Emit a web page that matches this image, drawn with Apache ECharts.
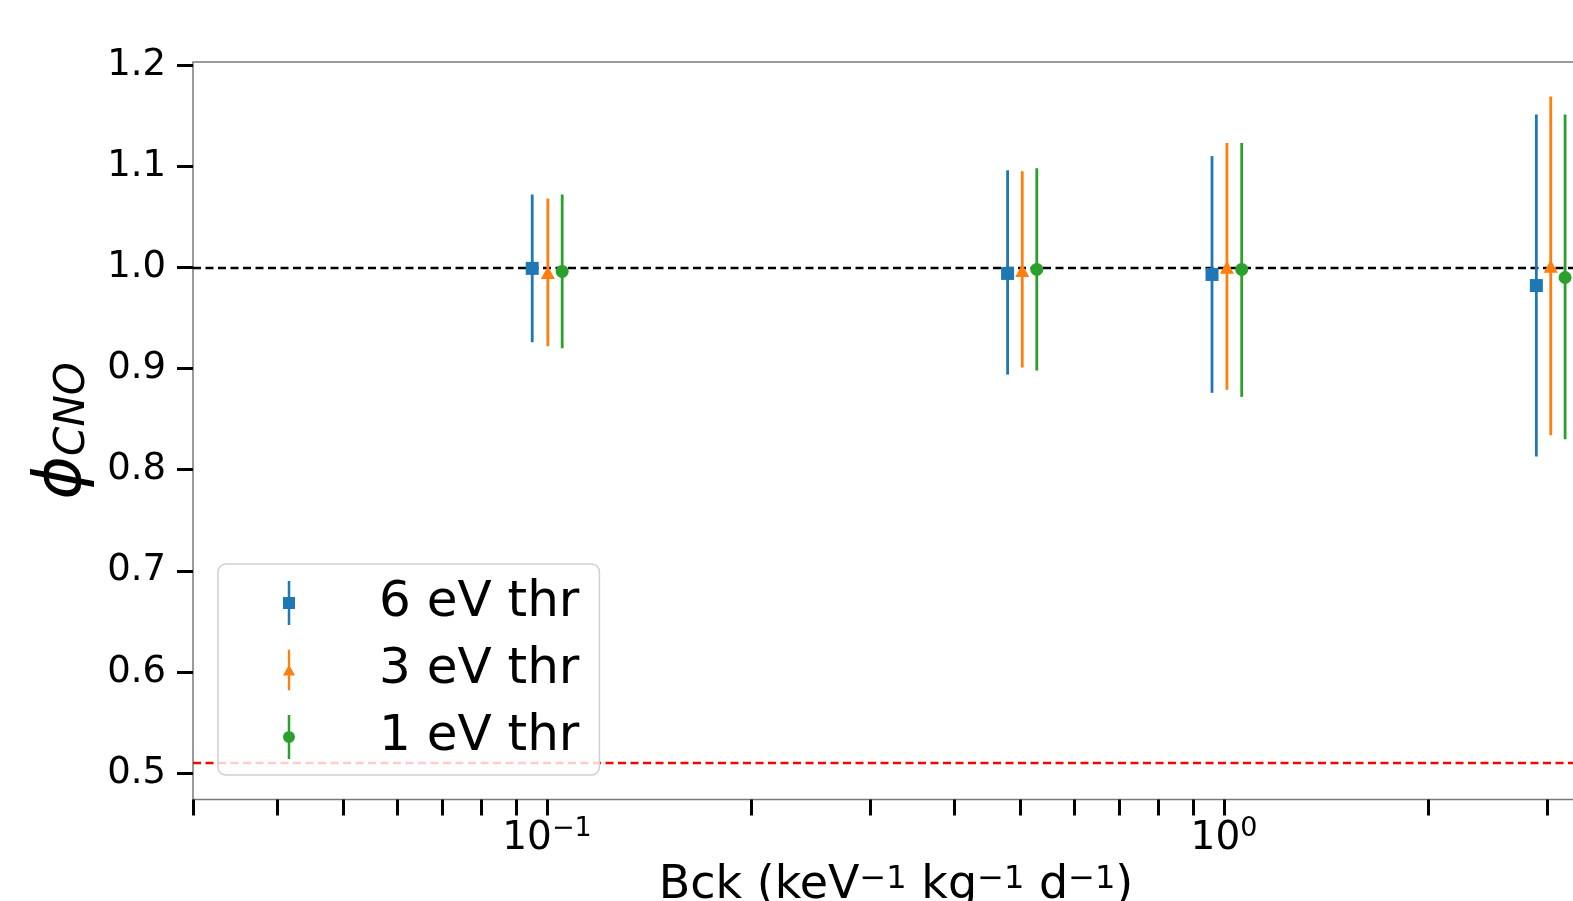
<!DOCTYPE html>
<html>
<head>
<meta charset="utf-8">
<script src="https://cdn.jsdelivr.net/npm/echarts@6.0.0/dist/echarts.min.js"></script>
<style>
html, body { margin: 0; padding: 0; background: #fff; }
#chart { width: 1573px; height: 901px; }
</style>
</head>
<body>
<div id="chart"></div>
<script>
// 6 eV threshold
var thr6Bck = [0.0951, 0.479, 0.960, 2.893];
var thr6Phi = [0.999, 0.994, 0.993, 0.982];
var thr6Lo  = [0.926, 0.894, 0.876, 0.813];
var thr6Hi  = [1.072, 1.096, 1.110, 1.151];
// 3 eV threshold
var thr3Bck = [0.1003, 0.5035, 1.010, 3.038];
var thr3Phi = [0.995, 0.997, 1.000, 1.001];
var thr3Lo  = [0.922, 0.901, 0.879, 0.834];
var thr3Hi  = [1.068, 1.095, 1.123, 1.169];
// 1 eV threshold
var thr1Bck = [0.1053, 0.529, 1.062, 3.190];
var thr1Phi = [0.996, 0.998, 0.998, 0.990];
var thr1Lo  = [0.920, 0.898, 0.872, 0.830];
var thr1Hi  = [1.072, 1.098, 1.123, 1.151];

var seriesNames = ['6 eV thr', '3 eV thr', '1 eV thr'];
var colors = ['#1f77b4', '#ff7f0e', '#2ca02c'];
var refLine = 1.0;
var limitLine = 0.508;

var xMin = 0.03, xMax = 3.58;
var yMin = 0.474, yMax = 1.203;
var xTicks = [0.03, 0.04, 0.05, 0.06, 0.07, 0.08, 0.09,
              0.1, 0.2, 0.3, 0.4, 0.5, 0.6, 0.7, 0.8, 0.9, 1, 2, 3];
var xLabels = [0.1, 1];
var yTicks = [0.5, 0.6, 0.7, 0.8, 0.9, 1.0, 1.1, 1.2];

var FONT = 'DejaVu Sans';

// x axis is a value axis over log10(Bck)
function lg(v) { return Math.log10(v); }

function build(bck, phi, lo, hi) {
  var out = [];
  for (var i = 0; i < bck.length; i++) {
    out.push([lg(bck[i]), phi[i], lo[i], hi[i]]);
  }
  return out;
}

function makeRender(shape) {
  return function (params, api) {
    var p = api.coord([api.value(0), api.value(1)]);
    var lo = api.coord([api.value(0), api.value(2)]);
    var hi = api.coord([api.value(0), api.value(3)]);
    var color = api.visual('color');
    var kids = [{
      type: 'line',
      shape: { x1: p[0], y1: hi[1], x2: p[0], y2: lo[1] },
      style: { stroke: color, lineWidth: 2.8 }
    }];
    if (shape === 'square') {
      kids.push({ type: 'rect', shape: { x: p[0] - 6.5, y: p[1] - 6.5, width: 13, height: 13 }, style: { fill: color } });
    } else if (shape === 'triangle') {
      kids.push({ type: 'polygon', shape: { points: [[p[0], p[1] - 6.5], [p[0] + 7, p[1] + 6.5], [p[0] - 7, p[1] + 6.5]] }, style: { fill: color } });
    } else {
      kids.push({ type: 'circle', shape: { cx: p[0], cy: p[1], r: 6.5 }, style: { fill: color } });
    }
    return { type: 'group', children: kids };
  };
}

var icons = [
  'path://M4.75,0h2.5v44h-2.5z M0,16h12v12h-12z',
  'path://M4.75,0h2.5v44h-2.5z M6,16L12.5,28H-0.5z',
  'path://M4.75,0h2.5v44h-2.5z M12,22A6,6,0,1,1,0,22A6,6,0,1,1,12,22z'
];

var chart = echarts.init(document.getElementById('chart'));
chart.setOption({
  animation: false,
  color: colors,
  textStyle: { fontFamily: FONT },
  grid: {
    left: 193, top: 62, right: -26, bottom: 101.5,
    containLabel: false,
    outerBoundsMode: 'none',
    show: true, borderColor: '#7a7a7a', borderWidth: 1.5, backgroundColor: 'transparent'
  },
  legend: {
    orient: 'vertical',
    left: 218, top: 564,
    padding: [13, 20, 12, 65],
    itemWidth: 12, itemHeight: 44, itemGap: 15,
    selectedMode: false,
    backgroundColor: 'rgba(255,255,255,0.8)',
    borderColor: '#d0d0d0', borderWidth: 1.5, borderRadius: 8,
    textStyle: { fontFamily: FONT, fontSize: 50, color: '#000', lineHeight: 52, padding: [0, 0, 0, 79] },
    data: seriesNames.map(function (n, i) {
      return { name: n, icon: icons[i], itemStyle: { color: colors[i] } };
    })
  },
  xAxis: {
    type: 'value',
    min: lg(xMin), max: lg(xMax),
    name: 'Bck (keV{s|\u22121} kg{s|\u22121} d{s|\u22121})',
    nameLocation: 'middle',
    nameGap: 60,
    nameTextStyle: {
      fontFamily: FONT, fontSize: 46, color: '#000', lineHeight: 44,
      rich: { s: { fontFamily: FONT, fontSize: 32, color: '#000', lineHeight: 4, verticalAlign: 'top' } }
    },
    axisLine: { show: false, onZero: false },
    splitLine: { show: false },
    axisTick: {
      show: true, inside: false, length: 16,
      lineStyle: { color: '#000', width: 3 },
      customValues: xTicks.map(lg)
    },
    axisLabel: {
      show: true, margin: 16,
      customValues: xLabels.map(lg),
      formatter: function (v) {
        var e = Math.round(v);
        return '{b|10}{s|' + (e < 0 ? '\u2212' + (-e) : e) + '}';
      },
      rich: {
        b: { fontFamily: FONT, fontSize: 39, color: '#000', lineHeight: 46 },
        s: { fontFamily: FONT, fontSize: 27, color: '#000', lineHeight: 30, verticalAlign: 'top' }
      }
    }
  },
  yAxis: {
    type: 'value',
    min: yMin, max: yMax,
    name: '{p|\u03d5}{s|CNO}',
    nameLocation: 'middle',
    nameGap: 83,
    nameTextStyle: {
      rich: {
        p: { fontFamily: FONT, fontStyle: 'italic', fontSize: 66, color: '#000', lineHeight: 62 },
        s: { fontFamily: FONT, fontStyle: 'italic', fontSize: 42, color: '#000', lineHeight: 40, verticalAlign: 'bottom' }
      }
    },
    axisLine: { show: false, onZero: false },
    splitLine: { show: false },
    axisTick: {
      show: true, inside: false, length: 16,
      lineStyle: { color: '#000', width: 3 },
      customValues: yTicks
    },
    axisLabel: {
      show: true, margin: 27,
      customValues: yTicks,
      fontFamily: FONT, fontSize: 37, color: '#000',
      formatter: function (v) { return v.toFixed(1); }
    }
  },
  series: [
    {
      name: seriesNames[0], type: 'custom', renderItem: makeRender('square'),
      encode: { x: 0, y: 1 }, data: build(thr6Bck, thr6Phi, thr6Lo, thr6Hi), z: 3,
      markLine: {
        silent: true, symbol: 'none', z: 1, animation: false,
        label: { show: false },
        lineStyle: { type: [8, 4.5], width: 2.4 },
        data: [
          { yAxis: refLine, lineStyle: { color: '#000' } },
          { yAxis: limitLine, lineStyle: { color: '#ff0000' } }
        ]
      }
    },
    {
      name: seriesNames[1], type: 'custom', renderItem: makeRender('triangle'),
      encode: { x: 0, y: 1 }, data: build(thr3Bck, thr3Phi, thr3Lo, thr3Hi), z: 3
    },
    {
      name: seriesNames[2], type: 'custom', renderItem: makeRender('circle'),
      encode: { x: 0, y: 1 }, data: build(thr1Bck, thr1Phi, thr1Lo, thr1Hi), z: 3
    }
  ]
});
</script>
</body>
</html>
